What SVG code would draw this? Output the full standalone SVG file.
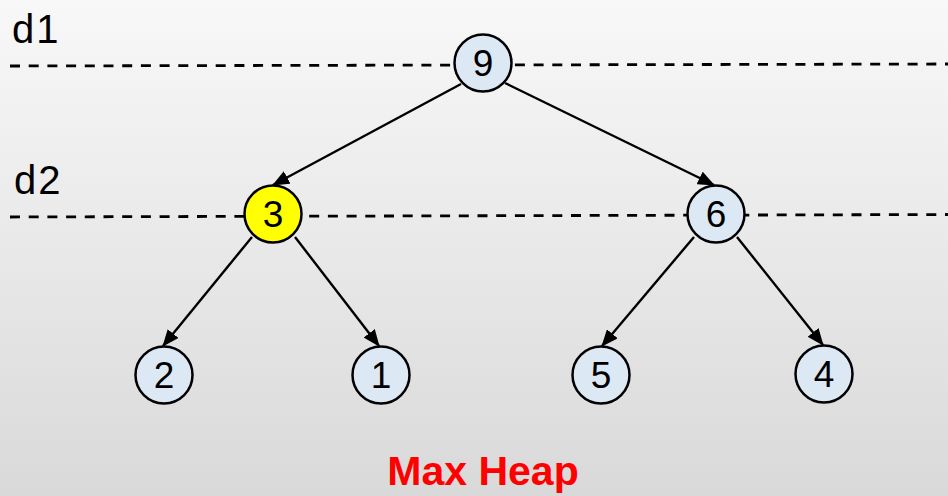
<svg xmlns="http://www.w3.org/2000/svg" width="948" height="496" viewBox="0 0 948 496">
  <defs>
    <linearGradient id="bg" x1="0" y1="0" x2="0" y2="1">
      <stop offset="0" stop-color="#f8f8f8"/>
      <stop offset="1" stop-color="#d9d9d9"/>
    </linearGradient>
    <marker id="arrow" markerUnits="userSpaceOnUse" markerWidth="17" markerHeight="14" refX="16" refY="7" orient="auto">
      <path d="M0,0 L17,7 L0,14 Z" fill="#000"/>
    </marker>
    <style>
      .level { stroke: #000; stroke-width: 2.8; stroke-dasharray: 10 8.7; fill: none; }
      .label { font-family: "Liberation Sans", Arial, sans-serif; font-size: 40px; fill: #000; letter-spacing: 2px; }
      .edge { stroke: #000; stroke-width: 2.4; fill: none; marker-end: url(#arrow); }
      .node circle { fill: #dde8f5; stroke: #000; stroke-width: 2.5; }
      .node.hl circle { fill: #ffff00; }
      .node text { font-family: "Liberation Sans", Arial, sans-serif; font-size: 37px; fill: #000; text-anchor: middle; }
      .title { font-family: "Liberation Sans", Arial, sans-serif; font-size: 41px; font-weight: bold; fill: #ff0000; text-anchor: middle; }
    </style>
  </defs>

  <rect width="948" height="496" fill="url(#bg)"/>

  <!-- depth guides -->
  <g id="levels">
    <line class="level" x1="10" y1="66" x2="948" y2="64"/>
    <line class="level" x1="10" y1="217" x2="948" y2="214.5"/>
    <text class="label" x="12" y="43">d1</text>
    <text class="label" x="14" y="194">d2</text>
  </g>

  <!-- parent-to-child links -->
  <g id="connectors">
    <line class="edge" x1="461" y1="84" x2="273" y2="185"/>
    <line class="edge" x1="505" y1="83" x2="714" y2="185"/>
    <line class="edge" x1="252" y1="237" x2="163" y2="346"/>
    <line class="edge" x1="295" y1="237" x2="379" y2="346"/>
    <line class="edge" x1="694" y1="237" x2="602" y2="346"/>
    <line class="edge" x1="737" y1="237" x2="823" y2="345"/>
  </g>

  <g id="n9" class="node"><circle cx="483" cy="63" r="28.5"/><text x="483" y="76">9</text></g>
  <g id="n3" class="node hl"><circle cx="273" cy="214" r="28.5"/><text x="273" y="227">3</text></g>
  <g id="n6" class="node"><circle cx="716" cy="214" r="28.5"/><text x="716" y="227">6</text></g>
  <g id="n2" class="node"><circle cx="164" cy="375" r="28.5"/><text x="164" y="388">2</text></g>
  <g id="n1" class="node"><circle cx="381" cy="375" r="28.5"/><text x="381" y="388">1</text></g>
  <g id="n5" class="node"><circle cx="601" cy="375" r="28.5"/><text x="601" y="388">5</text></g>
  <g id="n4" class="node"><circle cx="824" cy="374" r="28.5"/><text x="824" y="387">4</text></g>

  <text class="title" x="483" y="485">Max Heap</text>
</svg>
